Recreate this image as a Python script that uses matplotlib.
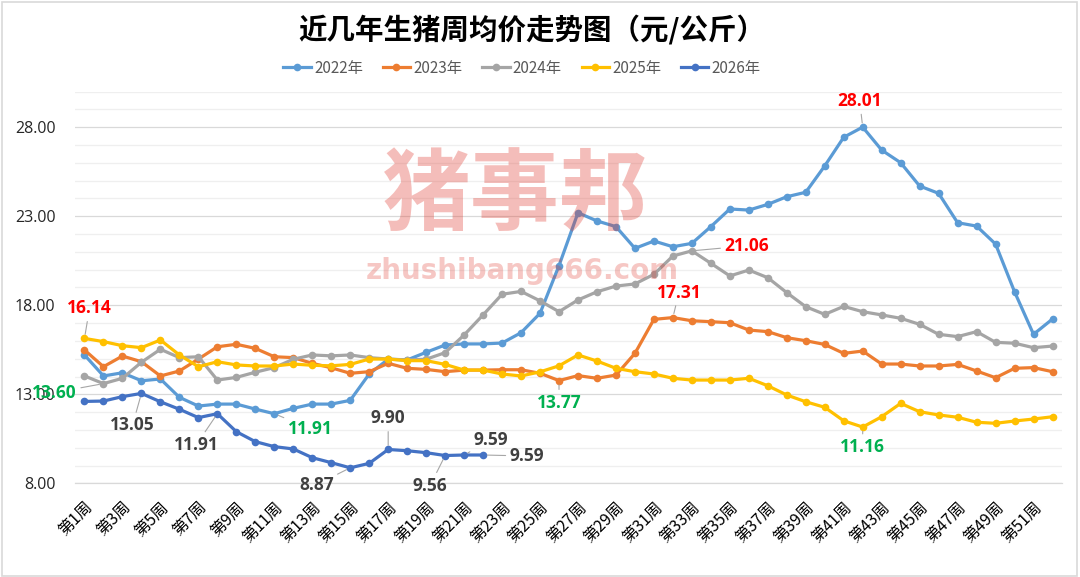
import matplotlib
matplotlib.use("Agg")
import matplotlib.pyplot as plt
from matplotlib.patches import Rectangle
from matplotlib.ticker import MultipleLocator, FixedLocator
import numpy as np

plt.rcParams['font.family'] = ['Noto Sans CJK SC', 'DejaVu Sans']

weeks = [f"第{i}周" for i in range(1, 53)]
series_names = ["2022年", "2023年", "2024年", "2025年", "2026年"]
colors = ["#5B9BD5", "#ED7D31", "#A5A5A5", "#FFC000", "#4472C4"]

y2022 = [15.21, 14.03, 14.21, 13.76, 13.86, 12.83, 12.34, 12.45, 12.45, 12.17,
         11.91, 12.21, 12.45, 12.45, 12.66, 14.14, 14.97, 14.93, 15.36, 15.77,
         15.83, 15.83, 15.88, 16.46, 17.55, 20.23, 23.20, 22.74, 22.42, 21.20,
         21.61, 21.29, 21.48, 22.42, 23.41, 23.35, 23.67, 24.10, 24.35, 25.83,
         27.44, 28.01, 26.72, 26.01, 24.70, 24.29, 22.64, 22.45, 21.44, 18.76,
         16.37, 17.23]
y2023 = [15.49, 14.55, 15.15, 14.83, 14.03, 14.31, 14.98, 15.67, 15.81, 15.58,
         15.11, 15.06, 14.74, 14.49, 14.18, 14.27, 14.74, 14.46, 14.40, 14.27,
         14.36, 14.36, 14.38, 14.38, 14.18, 13.77, 14.05, 13.90, 14.08, 15.30,
         17.21, 17.31, 17.13, 17.08, 17.02, 16.61, 16.52, 16.18, 16.01, 15.80,
         15.30, 15.43, 14.70, 14.70, 14.59, 14.59, 14.68, 14.31, 13.93, 14.46,
         14.50, 14.27]
y2024 = [14.03, 13.60, 13.90, 14.80, 15.53, 15.06, 15.11, 13.80, 13.95, 14.24,
         14.50, 14.97, 15.21, 15.16, 15.21, 15.06, 14.98, 14.93, 14.97, 15.34,
         16.33, 17.46, 18.62, 18.78, 18.25, 17.64, 18.30, 18.76, 19.08, 19.20,
         19.74, 20.77, 21.06, 20.36, 19.65, 19.98, 19.55, 18.71, 17.92, 17.49,
         17.94, 17.64, 17.46, 17.27, 16.93, 16.37, 16.24, 16.52, 15.92, 15.87,
         15.62, 15.71]
y2025 = [16.14, 15.96, 15.73, 15.62, 16.05, 15.21, 14.55, 14.83, 14.65, 14.59,
         14.59, 14.70, 14.63, 14.60, 14.68, 14.98, 14.98, 14.89, 14.89, 14.68,
         14.36, 14.36, 14.14, 14.03, 14.26, 14.60, 15.21, 14.87, 14.46, 14.27,
         14.14, 13.90, 13.80, 13.80, 13.80, 13.90, 13.48, 12.96, 12.58, 12.27,
         11.51, 11.16, 11.74, 12.49, 12.02, 11.84, 11.71, 11.43, 11.37, 11.50,
         11.61, 11.74]
y2026 = [12.60, 12.62, 12.87, 13.05, 12.58, 12.16, 11.69, 11.91, 10.90, 10.34,
         10.06, 9.93, 9.44, 9.16, 8.87, 9.12, 9.90, 9.83, 9.72, 9.56,
         9.59, 9.59]

all_series = [y2022, y2023, y2024, y2025, y2026]

# (series index, week number, colour, label offset in pixels dx, dy (up +))
labels = [
    (3, 1, "#FF0000", 5, 30),
    (2, 2, "#00B050", -49, -9),
    (4, 4, "#404040", -9, -32),
    (4, 8, "#404040", -21, -31),
    (0, 11, "#00B050", 36, -15),
    (4, 15, "#404040", -34, -17),
    (4, 17, "#404040", 0, 31),
    (4, 20, "#404040", -15, -30),
    (4, 21, "#404040", 27, 15),
    (4, 22, "#404040", 44, -1),
    (1, 26, "#00B050", 0, -22),
    (1, 32, "#FF0000", 6, 25),
    (2, 33, "#FF0000", 55, 5),
    (0, 42, "#FF0000", -3, 26),
    (3, 42, "#00B050", 0, -20),
]

W, H = 1080, 577
fig = plt.figure(figsize=(W / 100, H / 100), dpi=100)
ax = fig.add_axes([75 / W, (H - 483.3) / H, (1062 - 75) / W, (483.3 - 91.7) / H])

x = np.arange(len(weeks))
for name, col, ys in zip(series_names, colors, all_series):
    ax.plot(x[:len(ys)], ys, color=col, lw=2.3, marker='o', ms=5.5,
            markeredgewidth=0, label=name, solid_joinstyle='round', zorder=3)

ax.set_xlim(-0.5, len(weeks) - 0.5)
ax.set_ylim(8, 30)
ax.yaxis.set_major_locator(FixedLocator([8, 13, 18, 23, 28]))
ax.yaxis.set_minor_locator(MultipleLocator(1))
ax.set_yticklabels([f"{v:.2f}" for v in [8, 13, 18, 23, 28]],
                   fontfamily='Open Sans', fontsize=11.5, color='#262626')
ax.grid(True, which='minor', axis='y', color='#EFEFEF', lw=0.9, zorder=0)
ax.grid(True, which='major', axis='y', color='#D9D9D9', lw=0.9, zorder=0)
ax.tick_params(axis='y', which='both', length=0, pad=14)
ax.set_xticks(x[::2])
ax.set_xticklabels(weeks[::2], rotation=45, ha='right', va='top',
                   rotation_mode='anchor', fontsize=11.5, color='#000000')
ax.tick_params(axis='x', length=0, pad=11)
for s in ['top', 'right', 'left']:
    ax.spines[s].set_visible(False)
ax.spines['bottom'].set_color('#D9D9D9')
ax.spines['bottom'].set_linewidth(0.9)

for si, wk, col, dx, dy in labels:
    v = all_series[si][wk - 1]
    ax.annotate(f"{v:.2f}", xy=(wk - 1, v), xytext=(dx, dy),
                textcoords='offset pixels', ha='center', va='center',
                fontfamily='Open Sans', fontweight='bold', fontsize=12.5,
                color=col, zorder=6,
                arrowprops=dict(arrowstyle='-', color='#A6A6A6', lw=0.8,
                                shrinkA=1, shrinkB=3))

fig.text(532 / W, 1 - 30 / H, "近几年生猪周均价走势图（元/公斤）", ha='center', va='center',
         fontsize=20.5, fontweight='bold', color='#000000')

leg = fig.legend(loc='center', bbox_to_anchor=(522 / W, 1 - 68 / H), ncol=5,
                 frameon=False, fontsize=11, handlelength=1.8, handletextpad=0.2,
                 columnspacing=1.3, labelcolor='#595959')

fig.text(515 / W, 1 - 197 / H, "猪事邦", ha='center', va='center', fontsize=64,
         fontweight='bold', color='#E0392E', alpha=0.33, zorder=10)
fig.text(522 / W, 1 - 271 / H, "zhushibang666.com", ha='center', va='center',
         fontsize=20, fontweight='bold', color='#E0392E', alpha=0.28,
         fontfamily='DejaVu Sans', zorder=10)

fig.patches.append(Rectangle((2 / W, 1 / H), (W - 5) / W, (H - 3) / H,
                             transform=fig.transFigure, fill=False,
                             edgecolor='#D9D9D9', lw=1.2))

fig.savefig("out.png", dpi=100, facecolor='white')
